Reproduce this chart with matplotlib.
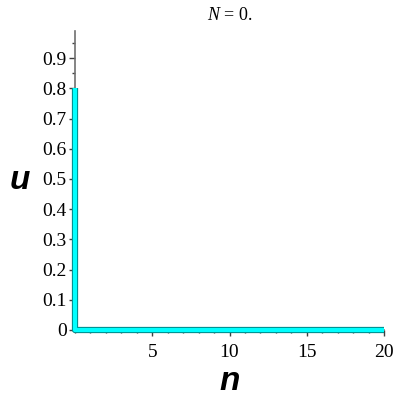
import matplotlib
matplotlib.use("Agg")
import matplotlib.pyplot as plt
import matplotlib.patheffects as pe
from matplotlib.ticker import MultipleLocator

# solution u(n) for N = 0: drops from 0.8 to 0 straight away
n_vals = [0, 0, 20]
u_vals = [0.8, 0, 0]

x_ticks = [5, 10, 15, 20]
y_ticks = [0, 0.1, 0.2, 0.3, 0.4, 0.5, 0.6, 0.7, 0.8, 0.9]
y_labels = ["0", "0.1", "0.2", "0.3", "0.4", "0.5", "0.6", "0.7", "0.8", "0.9"]

serif = "Liberation Serif"
plt.rcParams["mathtext.fontset"] = "custom"
plt.rcParams["mathtext.it"] = "Liberation Serif:italic"
plt.rcParams["mathtext.rm"] = "Liberation Serif"

fig = plt.figure(figsize=(4, 4), dpi=100)
ax = fig.add_axes([0.1875, 0.175, 0.7725, 0.7475])

ax.plot(n_vals, u_vals, color="#00ffff", linewidth=3, solid_capstyle="butt",
        path_effects=[pe.Stroke(linewidth=4.5, foreground="#008b8b"), pe.Normal()],
        clip_on=False, zorder=3)

ax.set_xlim(0, 20)
ax.set_ylim(0, 0.99)

for s in ["top", "right"]:
    ax.spines[s].set_visible(False)
for s in ["left", "bottom"]:
    ax.spines[s].set_color("#707070")
    ax.spines[s].set_linewidth(1.2)

ax.set_xticks(x_ticks)
ax.set_xticklabels([str(v) for v in x_ticks], fontfamily=serif, fontsize=14)
ax.set_yticks(y_ticks)
ax.set_yticklabels(y_labels, fontfamily=serif, fontsize=14)
ax.xaxis.set_minor_locator(MultipleLocator(1))
ax.yaxis.set_minor_locator(MultipleLocator(0.05))
ax.tick_params(which="major", direction="out", length=4, width=1, color="#404040", pad=6)
ax.tick_params(axis="y", which="major", pad=2)
ax.tick_params(which="minor", direction="out", length=2.5, width=1, color="#404040")

ax.set_xlabel("n", fontfamily="Liberation Sans", fontstyle="italic", fontweight="bold",
              fontsize=24, labelpad=4)
ax.set_ylabel("u", fontfamily="Liberation Sans", fontstyle="italic", fontweight="bold",
              fontsize=24, rotation=0, labelpad=16, va="center")

ax.set_title(r"$N$ = 0.", fontfamily=serif, fontsize=13, pad=8)

fig.savefig("out.png", dpi=100)
